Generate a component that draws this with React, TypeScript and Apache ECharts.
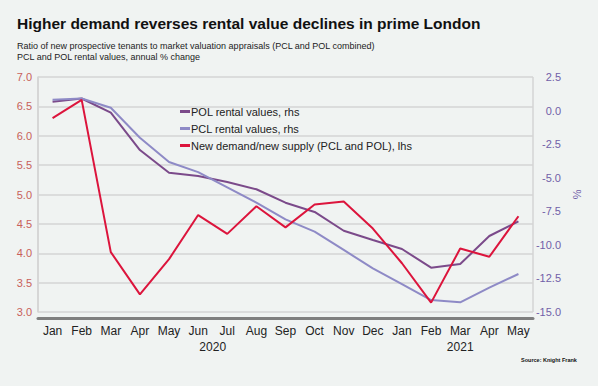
import React, { useEffect, useRef } from "react";
import * as echarts from "echarts";

const months = ["Jan", "Feb", "Mar", "Apr", "May", "Jun", "Jul", "Aug", "Sep", "Oct", "Nov", "Dec", "Jan", "Feb", "Mar", "Apr", "May"];
const yearLabels = [
  { pos: 5.5, text: "2020" },
  { pos: 14, text: "2021" },
];
const demandSupply = [6.3, 6.61, 4.02, 3.3, 3.9, 4.65, 4.33, 4.8, 4.44, 4.83, 4.88, 4.42, 3.83, 3.16, 4.08, 3.94, 4.63];
const polRental = [0.66, 0.9, -0.16, -2.94, -4.63, -4.87, -5.32, -5.86, -6.86, -7.55, -8.95, -9.64, -10.31, -11.7, -11.43, -9.34, -8.25];
const pclRental = [0.8, 0.9, 0.21, -2.02, -3.83, -4.58, -5.72, -6.86, -8.1, -9.02, -10.38, -11.75, -12.92, -14.11, -14.28, -13.19, -12.17];

const FONT = "'Liberation Sans', Arial, sans-serif";
const RED = "#dc143c";
const POL = "#7b4a8a";
const PCL = "#8e8ac6";

export default function App() {
  const ref = useRef<HTMLDivElement>(null);
  useEffect(() => {
    if (!ref.current) return;
    const chart = echarts.init(ref.current, null, { renderer: "svg" });
    chart.setOption({
      animation: false,
      backgroundColor: "#f0f3f2",
      textStyle: { fontFamily: FONT },
      title: [
        {
          text: "Higher demand reverses rental value declines in prime London",
          left: 17,
          top: 15,
          padding: 0,
          textStyle: { fontSize: 15.5, fontWeight: "bold", color: "#111", fontFamily: FONT },
        },
        {
          text: "Ratio of new prospective tenants to market valuation appraisals (PCL and POL combined)\nPCL and POL rental values, annual % change",
          left: 17,
          top: 40,
          padding: 0,
          textStyle: { fontSize: 9, fontWeight: "normal", color: "#222", lineHeight: 11, fontFamily: FONT },
        },
        {
          text: "Source: Knight Frank",
          left: 521,
          top: 357,
          padding: 0,
          textStyle: { fontSize: 5.5, fontWeight: "bold", color: "#111", fontFamily: FONT },
        },
      ],
      legend: {
        orient: "vertical",
        left: 180,
        top: 106,
        padding: 0,
        itemGap: 6,
        itemWidth: 10,
        itemHeight: 3,
        icon: "rect",
        textStyle: { fontSize: 11, color: "#222", padding: [0, 0, 0, -4], fontFamily: FONT },
        data: ["POL rental values, rhs", "PCL rental values, rhs", "New demand/new supply (PCL and POL), lhs"],
      },
      grid: { left: 38, right: 65, top: 77, bottom: 74 },
      xAxis: [
        {
          type: "category",
          data: months,
          position: "bottom",
          offset: 6,
          boundaryGap: true,
          axisLine: { show: true, onZero: false, lineStyle: { color: "#7f7f7f", width: 3 } },
          axisTick: { show: false },
          axisLabel: { fontSize: 12, color: "#222", margin: 7, interval: 0 },
          splitLine: { show: true, interval: (i: number) => i === 12, lineStyle: { color: "#d4d4d4", width: 1.5 } },
        },
        {
          type: "value",
          position: "bottom",
          offset: 22,
          min: -0.5,
          max: 16.5,
          interval: 0.5,
          axisLine: { show: false, onZero: false },
          axisTick: { show: false },
          splitLine: { show: false },
          axisLabel: {
            fontSize: 12,
            color: "#222",
            margin: 7,
            showMinLabel: true,
            showMaxLabel: true,
            formatter: (v: number) => {
              const f = yearLabels.find((y) => Math.abs(y.pos - v) < 1e-6);
              return f ? f.text : "";
            },
          },
        },
      ],
      yAxis: [
        {
          type: "value",
          min: 3,
          max: 7,
          interval: 0.5,
          axisLine: { show: true, onZero: false, lineStyle: { color: "#d4d4d4", width: 1.5 } },
          axisTick: { show: false },
          splitLine: { show: true, lineStyle: { color: "#d4d4d4", width: 1.5 } },
          axisLabel: { fontSize: 11, color: "#c8605a", margin: 6, formatter: (v: number) => v.toFixed(1) },
        },
        {
          type: "value",
          position: "right",
          min: -15,
          max: 2.5,
          interval: 2.5,
          name: "%",
          nameLocation: "middle",
          nameGap: 38,
          nameRotate: -90,
          nameTextStyle: { fontSize: 11, color: "#7060a8" },
          axisLine: { show: false, onZero: false },
          axisTick: { show: false },
          splitLine: { show: false },
          axisLabel: { fontSize: 11, color: "#7060a8", margin: 28, align: "right", formatter: (v: number) => v.toFixed(1) },
        },
      ],
      series: [
        {
          name: "POL rental values, rhs",
          type: "line",
          yAxisIndex: 1,
          xAxisIndex: 0,
          data: polRental,
          symbol: "none",
          lineStyle: { color: POL, width: 2 },
          itemStyle: { color: POL },
        },
        {
          name: "PCL rental values, rhs",
          type: "line",
          yAxisIndex: 1,
          xAxisIndex: 0,
          data: pclRental,
          symbol: "none",
          lineStyle: { color: PCL, width: 2 },
          itemStyle: { color: PCL },
        },
        {
          name: "New demand/new supply (PCL and POL), lhs",
          type: "line",
          yAxisIndex: 0,
          xAxisIndex: 0,
          data: demandSupply,
          symbol: "none",
          lineStyle: { color: RED, width: 2 },
          itemStyle: { color: RED },
        },
      ],
    });
    return () => chart.dispose();
  }, []);
  return <div ref={ref} style={{ position: "fixed", left: 0, top: 0, width: 598, height: 386 }} />;
}
